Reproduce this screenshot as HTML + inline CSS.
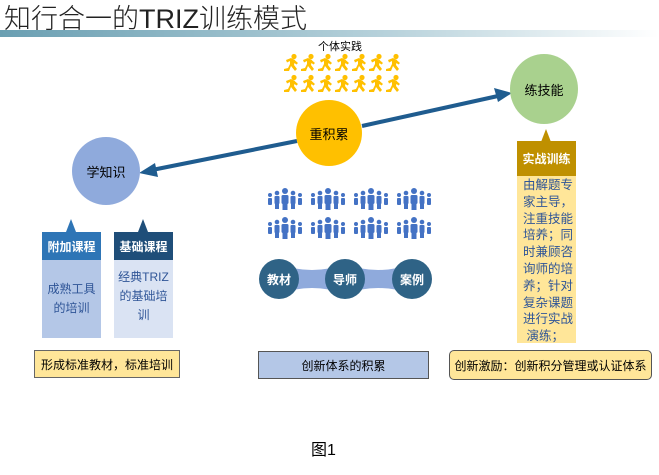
<!DOCTYPE html>
<html><head><meta charset="utf-8"><style>
body{margin:0;width:659px;height:475px;background:#fff;position:relative;overflow:hidden;font-family:"Liberation Sans","Noto Sans CJK SC",sans-serif}
.a{position:absolute}
.c{display:flex;align-items:center;justify-content:center;text-align:center}
</style></head><body>
<div class="a" style="left:4px;top:-3px;font-size:27px;font-weight:300;color:#222">知行合一的TRIZ训练模式</div>
<div class="a" style="left:0;top:30px;width:659px;height:7px;background:linear-gradient(90deg,#6a9fb2,#b9d3dc 60%,#fff)"></div>
<div class="a" style="left:318px;top:38px;font-size:11px;color:#000">个体实践</div>
<svg class="a" style="left:0;top:0" width="659" height="475">
<defs>
<g id="r" fill="#ffc000"><circle cx="11" cy="2.5" r="2.6"/><path d="M3 6 L8 4 L12 6 L11 11 L14 15 L12 17 L8 12 L6 17 L1 17 L1 15 L5 14 L7 10 L7 7 L4 8.5 Z M11 5.5 L15 9 L13.5 10.5 L10 8Z"/></g>
<g id="p" fill="#4472c4"><circle cx="18" cy="3" r="3"/><rect x="14.5" y="7" width="7" height="9" rx="1.5"/><rect x="15.5" y="14" width="5" height="8"/>
<circle cx="10" cy="5" r="2.3"/><rect x="7.5" y="8" width="5" height="8" rx="1"/><rect x="8" y="14" width="4" height="7"/>
<circle cx="26" cy="5" r="2.3"/><rect x="23.5" y="8" width="5" height="8" rx="1"/><rect x="24" y="14" width="4" height="7"/>
<circle cx="3" cy="7" r="2"/><rect x="1" y="10" width="4" height="7" rx="1"/><circle cx="33" cy="7" r="2"/><rect x="31" y="10" width="4" height="7" rx="1"/></g>
</defs>
<g>
<use href="#r" x="283" y="54"/><use href="#r" x="300" y="54"/><use href="#r" x="317" y="54"/><use href="#r" x="334" y="54"/><use href="#r" x="351" y="54"/><use href="#r" x="368" y="54"/><use href="#r" x="385" y="54"/>
<use href="#r" x="283" y="75"/><use href="#r" x="300" y="75"/><use href="#r" x="317" y="75"/><use href="#r" x="334" y="75"/><use href="#r" x="351" y="75"/><use href="#r" x="368" y="75"/><use href="#r" x="385" y="75"/>
</g>
<g>
<use href="#p" x="267" y="188"/><use href="#p" x="310" y="188"/><use href="#p" x="353" y="188"/><use href="#p" x="396" y="188"/>
<use href="#p" x="267" y="217"/><use href="#p" x="310" y="217"/><use href="#p" x="353" y="217"/><use href="#p" x="396" y="217"/>
</g>
<line x1="362" y1="126" x2="498" y2="96" stroke="#1f5c8f" stroke-width="4"/>
<polygon points="512,93 494,88 498,102" fill="#1f5c8f"/>
<line x1="297" y1="141" x2="152" y2="170" stroke="#1f5c8f" stroke-width="4"/>
<polygon points="139,173 155,163 158,177" fill="#1f5c8f"/>
<circle cx="329" cy="133" r="33" fill="#ffc000"/>
<ellipse cx="544" cy="89" rx="34" ry="35" fill="#a9d18e"/>
<circle cx="106" cy="171" r="34" fill="#8faadc"/>
<path d="M279 264 Q312 276 345 264 L345 294 Q312 282 279 294Z M345 264 Q378 276 412 264 L412 294 Q378 282 345 294Z" fill="#8faadc"/>
<circle cx="279" cy="279" r="20" fill="#2f6386"/><circle cx="345" cy="279" r="20" fill="#2f6386"/><circle cx="412" cy="279" r="20" fill="#2f6386"/>
<polygon points="66,232 71,219 76,232" fill="#2e75b6"/>
<polygon points="138,232 143,219 148,232" fill="#1f4e79"/>
<polygon points="541,142 546,129 551,142" fill="#bf9000"/>
</svg>
<div class="a c" style="left:296px;top:118px;width:66px;height:30px;font-size:13px">重积累</div>
<div class="a c" style="left:510px;top:74px;width:68px;height:30px;font-size:13px">练技能</div>
<div class="a c" style="left:72px;top:156px;width:68px;height:30px;font-size:13px">学知识</div>
<div class="a c" style="left:259px;top:269px;width:40px;height:20px;font-size:12px;color:#fff;font-weight:bold">教材</div>
<div class="a c" style="left:325px;top:269px;width:40px;height:20px;font-size:12px;color:#fff;font-weight:bold">导师</div>
<div class="a c" style="left:392px;top:269px;width:40px;height:20px;font-size:12px;color:#fff;font-weight:bold">案例</div>
<div class="a c" style="left:42px;top:232px;width:59px;height:28px;background:#2e75b6;color:#fff;font-size:12px;font-weight:bold">附加课程</div>
<div class="a c" style="left:42px;top:260px;width:59px;height:78px;background:#b4c7e7;color:#2f5597;font-size:12px;line-height:19px">成熟工具<br>的培训</div>
<div class="a c" style="left:114px;top:232px;width:59px;height:28px;background:#1f4e79;color:#fff;font-size:12px;font-weight:bold">基础课程</div>
<div class="a c" style="left:114px;top:260px;width:59px;height:78px;background:#dae3f3;color:#2f5597;font-size:12px;line-height:19px;align-items:flex-start;padding-top:8px;box-sizing:border-box">经典TRIZ<br>的基础培<br>训</div>
<div class="a c" style="left:34px;top:350px;width:146px;height:28px;box-sizing:border-box;background:#ffe699;border:1px solid #666;font-size:12px">形成标准教材，标准培训</div>
<div class="a c" style="left:258px;top:351px;width:171px;height:28px;box-sizing:border-box;background:#b4c7e7;border:1px solid #555;font-size:12px">创新体系的积累</div>
<div class="a c" style="left:517px;top:141px;width:59px;height:35px;background:#bf9000;color:#fff;font-size:12px;font-weight:bold">实战训练</div>
<div class="a" style="left:517px;top:176px;width:59px;height:167px;background:#ffe699;color:#2f5597;font-size:12.5px;line-height:16.8px;padding:1px 0 0 6px;box-sizing:border-box">由解题专家主导，注重技能培养；同时兼顾咨询师的培养；针对复杂课题进行实战<br>&nbsp;演练；</div>
<div class="a c" style="left:449px;top:350px;width:203px;height:30px;box-sizing:border-box;background:#ffe699;border:1px solid #555;border-radius:5px;font-size:12px">创新激励：创新积分管理或认证体系</div>
<div class="a" style="left:311px;top:436px;font-size:16px;color:#000">图1</div>
</body></html>
